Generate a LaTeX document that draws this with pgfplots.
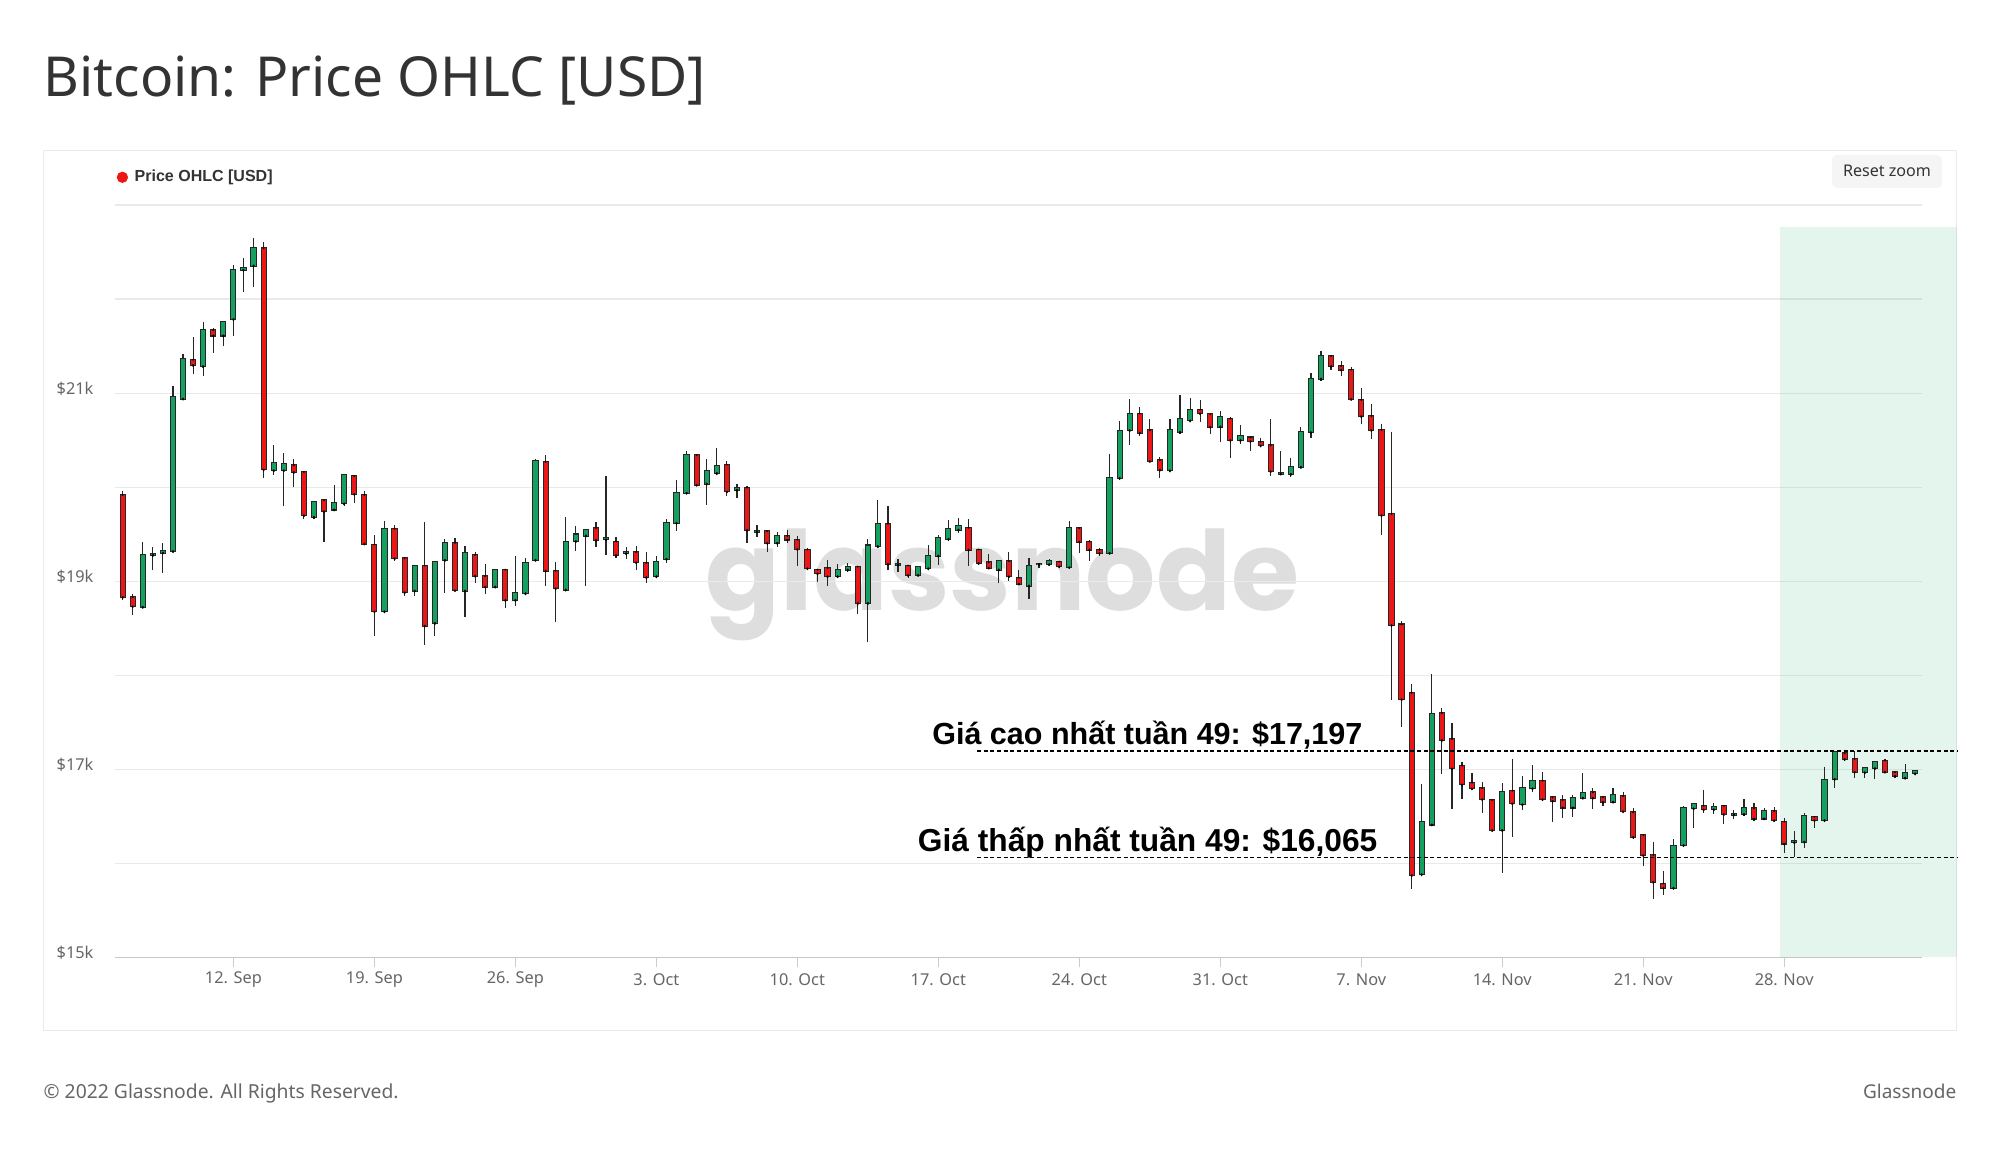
\documentclass[border=0pt]{standalone}
\usepackage{pgfplots}
\pgfplotsset{compat=1.18}
\usepackage{pgfplotstable}
\usepackage{graphicx}
\usepackage{fontspec}
\setmainfont{Noto Sans}
\newfontfamily\bfont{Liberation Sans}
\newfontfamily\wmfont{Poppins}
\definecolor{cgreen}{RGB}{20,160,95}
\definecolor{cred}{RGB}{236,22,22}
\definecolor{txt}{RGB}{51,51,51}
\definecolor{lbl}{RGB}{102,102,102}
\definecolor{gridc}{RGB}{234,234,234}
\definecolor{band}{RGB}{0,170,90}

\pgfplotstableread{
x O H L C
-5.5 19916 19958 18805 18833
-5 18830 18869 18645 18734
-4.5 18727 19419 18716 19277
-4 19280 19366 19117 19290
-3.5 19305 19408 19089 19318
-3 19320 21077 19310 20960
-2.5 20942 21421 20930 21361
-2 21354 21602 21208 21300
-1.5 21286 21758 21183 21670
-1 21670 21688 21425 21613
-0.5 21613 21760 21496 21758
0 21787 22362 21609 22312
0.5 22312 22433 22071 22325
1 22355 22646 22124 22539
1.5 22539 22610 20100 20189
2 20179 20445 20125 20260
2.5 20179 20360 19799 20243
3 20232 20303 20001 20161
3.5 20161 20165 19657 19703
4 19685 19845 19657 19841
4.5 19859 19865 19415 19746
5 19763 20019 19755 19834
5.5 19827 20143 19799 20129
6 20118 20122 19827 19930
6.5 19916 19958 19390 19401
7 19390 19490 18414 18680
7.5 18680 19640 18675 19560
8 19557 19600 19220 19245
8.5 19245 19250 18840 18883
9 18901 19170 18847 19167
9.5 19167 19628 18326 18528
10 18556 19212 18421 19209
10.5 19227 19444 18876 19408
11 19408 19458 18901 18905
11.5 18901 19373 18624 19298
12 19280 19316 18979 19060
12.5 19053 19185 18865 18943
13 18943 19128 18940 19124
13.5 19124 19128 18712 18801
14 18801 19273 18740 18872
14.5 18872 19245 18868 19195
15 19227 20296 19220 20282
15.5 20267 20345 18954 19114
16 19110 19202 18570 18925
16.5 18911 19682 18905 19422
17 19426 19586 19320 19497
17.5 19486 19550 18954 19547
18 19564 19628 19369 19440
18.5 19445 20115 19280 19455
19 19422 19469 19250 19280
19.5 19298 19362 19238 19306
20 19309 19373 19121 19202
20.5 19195 19316 18979 19043
21 19053 19273 19050 19209
21.5 19238 19664 19192 19621
22 19621 20072 19533 19941
22.5 19941 20381 19938 20338
23 20338 20342 20022 20026
23.5 20037 20296 19806 20168
24 20150 20416 20132 20221
24.5 20239 20278 19905 19955
25 19973 20037 19884 19990
25.5 19994 20008 19408 19547
26 19528 19593 19469 19536
26.5 19532 19540 19309 19408
27 19408 19522 19362 19479
27.5 19479 19540 19408 19444
28 19440 19479 19167 19344
28.5 19337 19351 19124 19138
29 19124 19130 18996 19085
29.5 19138 19231 18954 19053
30 19053 19185 19050 19124
30.5 19124 19195 19103 19156
31 19156 19160 18652 18769
31.5 18769 19444 18350 19380
32 19373 19859 19370 19611
32.5 19611 19799 19124 19185
33 19178 19238 19096 19186
33.5 19167 19174 19036 19067
34 19067 19160 19060 19156
34.5 19138 19387 19124 19273
35 19273 19497 19177 19458
35.5 19451 19646 19433 19557
36 19550 19671 19511 19586
36.5 19568 19657 19167 19337
37 19337 19340 19185 19195
37.5 19202 19291 19142 19145
38 19124 19220 18982 19213
38.5 19213 19316 19007 19053
39 19036 19124 18972 18975
39.5 18954 19245 18812 19167
40 19182 19188 19138 19188
40.5 19181 19238 19178 19213
41 19209 19220 19156 19158
41.5 19149 19639 19145 19564
42 19564 19582 19298 19422
42.5 19422 19440 19220 19337
43 19334 19351 19273 19302
43.5 19302 20356 19298 20097
44 20097 20700 20094 20594
44.5 20605 20942 20445 20782
45 20782 20853 20544 20580
45.5 20605 20729 20275 20278
46 20285 20321 20100 20186
46.5 20178 20729 20175 20607
47 20588 20976 20570 20721
47.5 20710 20946 20706 20824
48 20824 20930 20691 20786
48.5 20775 20780 20566 20645
49 20645 20805 20482 20748
49.5 20729 20748 20311 20501
50 20501 20661 20463 20547
50.5 20528 20539 20387 20490
51 20482 20520 20425 20444
51.5 20444 20729 20121 20170
52 20145 20387 20140 20152
52.5 20140 20311 20110 20216
53 20216 20642 20212 20585
53.5 20585 21212 20520 21155
54 21155 21451 21128 21394
54.5 21394 21397 21250 21288
55 21288 21337 21185 21250
55.5 21250 21280 20935 20938
56 20927 21052 20672 20756
56.5 20756 20881 20512 20607
57 20607 20672 19494 19703
57.5 19714 20588 17735 18533
58 18540 18582 17450 17746
58.5 17811 17909 15732 15876
59 15885 16844 15870 16443
59.5 16414 18010 16400 17586
60 17596 17657 16947 17312
60.5 17323 17490 16578 17011
61 17039 17075 16680 16840
61.5 16858 16957 16790 16798
62 16798 16869 16539 16684
62.5 16673 16680 16350 16354
63 16354 16858 15900 16755
63.5 16773 17107 16283 16638
64 16627 16929 16567 16805
64.5 16798 17046 16755 16876
65 16879 16975 16680 16684
65.5 16702 16716 16436 16666
66 16673 16727 16478 16595
66.5 16595 16727 16496 16691
67 16698 16957 16695 16744
67.5 16755 16805 16578 16698
68 16702 16705 16610 16656
68.5 16656 16805 16650 16727
69 16716 16762 16550 16556
69.5 16542 16585 16265 16283
70 16300 16303 15974 16088
70.5 16088 16230 15626 15804
71 15786 15917 15669 15743
71.5 15740 16265 15737 16187
72 16194 16613 16180 16585
72.5 16585 16630 16372 16627
73 16613 16780 16539 16574
73.5 16574 16638 16524 16602
74 16613 16620 16414 16524
74.5 16520 16567 16471 16528
75 16524 16680 16500 16585
75.5 16585 16645 16450 16478
76 16478 16585 16471 16556
76.5 16556 16602 16457 16460
77 16443 16485 16112 16212
77.5 16226 16343 16065 16234
78 16230 16531 16166 16503
78.5 16496 16499 16382 16460
79 16460 17028 16457 16886
79.5 16897 17195 16798 17188
80 17170 17197 17089 17110
80.5 17110 17197 16911 16975
81 16968 17018 16911 17011
81.5 17011 17089 16897 17082
82 17092 17110 16972 16975
82.5 16968 16982 16911 16933
83 16911 17057 16908 16957
83.5 16957 16990 16950 16986
}\ohlc

\pgfplotsset{nomark/.style={forget plot, only marks, mark=*, mark size=0.01pt, mark options={draw=none, fill=none}}}

\begin{document}
\begin{tikzpicture}
\path[use as bounding box, fill=white] (0,0) rectangle (600pt,345.6pt);
\begin{scope}[shift={(0pt,345.6pt)}, x=0.3pt, y=-0.3pt]
  \draw[gridc, line width=0.35pt] (43.4,150.5) rectangle (1956.6,1030.6);
  \node[anchor=base west, inner sep=0pt, text=txt] at (43,97) {\resizebox{198.6pt}{!}{Bitcoin: Price OHLC [USD]}};
  \fill[cred] (122.4,177.3) circle (1.7pt);
  \node[anchor=base west, inner sep=0pt, text=txt] at (134,182) {\resizebox{41.4pt}{!}{\bfont\bfseries Price OHLC [USD]}};
  \fill[black!4, rounded corners=1.5pt] (1832,155) rectangle (1942,188);
  \node[anchor=base, inner sep=0pt, text=txt] at (1887,177) {\resizebox{26.4pt}{!}{Reset zoom}};
  \node[anchor=base west, inner sep=0pt, text=black!13] at (705,610) {\resizebox{178pt}{!}{\wmfont\bfseries glassnode}};
  \node[anchor=base west, inner sep=0pt, text=lbl] at (43,1098.5) {\resizebox{106.5pt}{!}{© 2022 Glassnode. All Rights Reserved.}};
  \node[anchor=base east, inner sep=0pt, text=lbl] at (1957,1098.5) {\resizebox{28pt}{!}{Glassnode}};
\end{scope}

\begin{axis}[
  at={(34.5pt,58.35pt)}, anchor=south west,
  scale only axis, width=542.1pt, height=225.75pt,
  xmin=-5.879, xmax=83.84, ymin=15000, ymax=23000,
  clip=false,
  scaled y ticks=false, scaled x ticks=false,
  axis line style={draw=none},
  ymajorgrids, grid style={gridc, line width=0.35pt},
  ytick={15000,16000,...,23000},
  yticklabels={\$15k,,\$17k,,\$19k,,\$21k,,},
  ytick style={draw=none},
  xtick={0,7,...,77},
  xticklabels={12. Sep,19. Sep,26. Sep,3. Oct,10. Oct,17. Oct,24. Oct,31. Oct,7. Nov,14. Nov,21. Nov,28. Nov},
  xtick style={draw=black!20, line width=0.3pt},
  tick align=outside, major tick length=3pt,
  xtick pos=bottom, ytick pos=left,
  tick label style={font=\fontsize{4.9pt}{5pt}\selectfont, text=lbl},
  xticklabel style={anchor=center, inner sep=0pt, yshift=-3.6pt},
  yticklabel style={anchor=base west, inner sep=0pt, xshift=-14.7pt, yshift=-0.35pt},
]
\draw[black!22, line width=0.4pt] (rel axis cs:0,0) -- (rel axis cs:1,0);
\addplot[forget plot, fill=band, fill opacity=0.11, draw=none] coordinates {(76.79,15000) (76.79,22770) (85.58,22770) (85.58,15000)};
% wicks
\addplot[nomark,
  error bars/.cd, y dir=both, y explicit, error mark=none,
  error bar style={line width=0.35pt, draw=black!85}]
  table[x=x, y=O, y error plus expr=\thisrow{H}-\thisrow{O}, y error minus expr=\thisrow{O}-\thisrow{L}] {\ohlc};
% body outlines
\addplot[nomark,
  error bars/.cd, y dir=plus, y explicit, error mark=none,
  error bar style={line width=1.85pt, draw=black!85}]
  table[x=x, y expr={min(\thisrow{O},\thisrow{C})-11}, y error plus expr={abs(\thisrow{C}-\thisrow{O})+22}] {\ohlc};
% up bodies
\addplot[nomark,
  restrict expr to domain={\thisrow{C}-\thisrow{O}}{0:100000},
  error bars/.cd, y dir=plus, y explicit, error mark=none,
  error bar style={line width=1.25pt, draw=cgreen}]
  table[x=x, y=O, y error plus expr=\thisrow{C}-\thisrow{O}] {\ohlc};
% down bodies
\addplot[nomark,
  restrict expr to domain={\thisrow{O}-\thisrow{C}}{0.5:100000},
  error bars/.cd, y dir=plus, y explicit, error mark=none,
  error bar style={line width=1.25pt, draw=cred}]
  table[x=x, y=C, y error plus expr=\thisrow{O}-\thisrow{C}] {\ohlc};
% weekly high / low
\addplot[forget plot, black, line width=0.45pt, dash pattern=on 1.2pt off 0.8pt] coordinates {(36.92,17197) (85.58,17197)};
\addplot[forget plot, black, line width=0.45pt, dash pattern=on 1.2pt off 0.8pt] coordinates {(36.92,16065) (85.58,16065)};
\end{axis}

\begin{scope}[shift={(0pt,345.6pt)}, x=0.3pt, y=-0.3pt]
  \node[anchor=base west, inner sep=0pt, text=black] at (931.7,744.3) {\resizebox{129pt}{!}{\bfont\bfseries Giá cao nhất tuần 49: \$17,197}};
  \node[anchor=base west, inner sep=0pt, text=black] at (917.3,851.7) {\resizebox{137.8pt}{!}{\bfont\bfseries Giá thấp nhất tuần 49: \$16,065}};
\end{scope}
\end{tikzpicture}
\end{document}
